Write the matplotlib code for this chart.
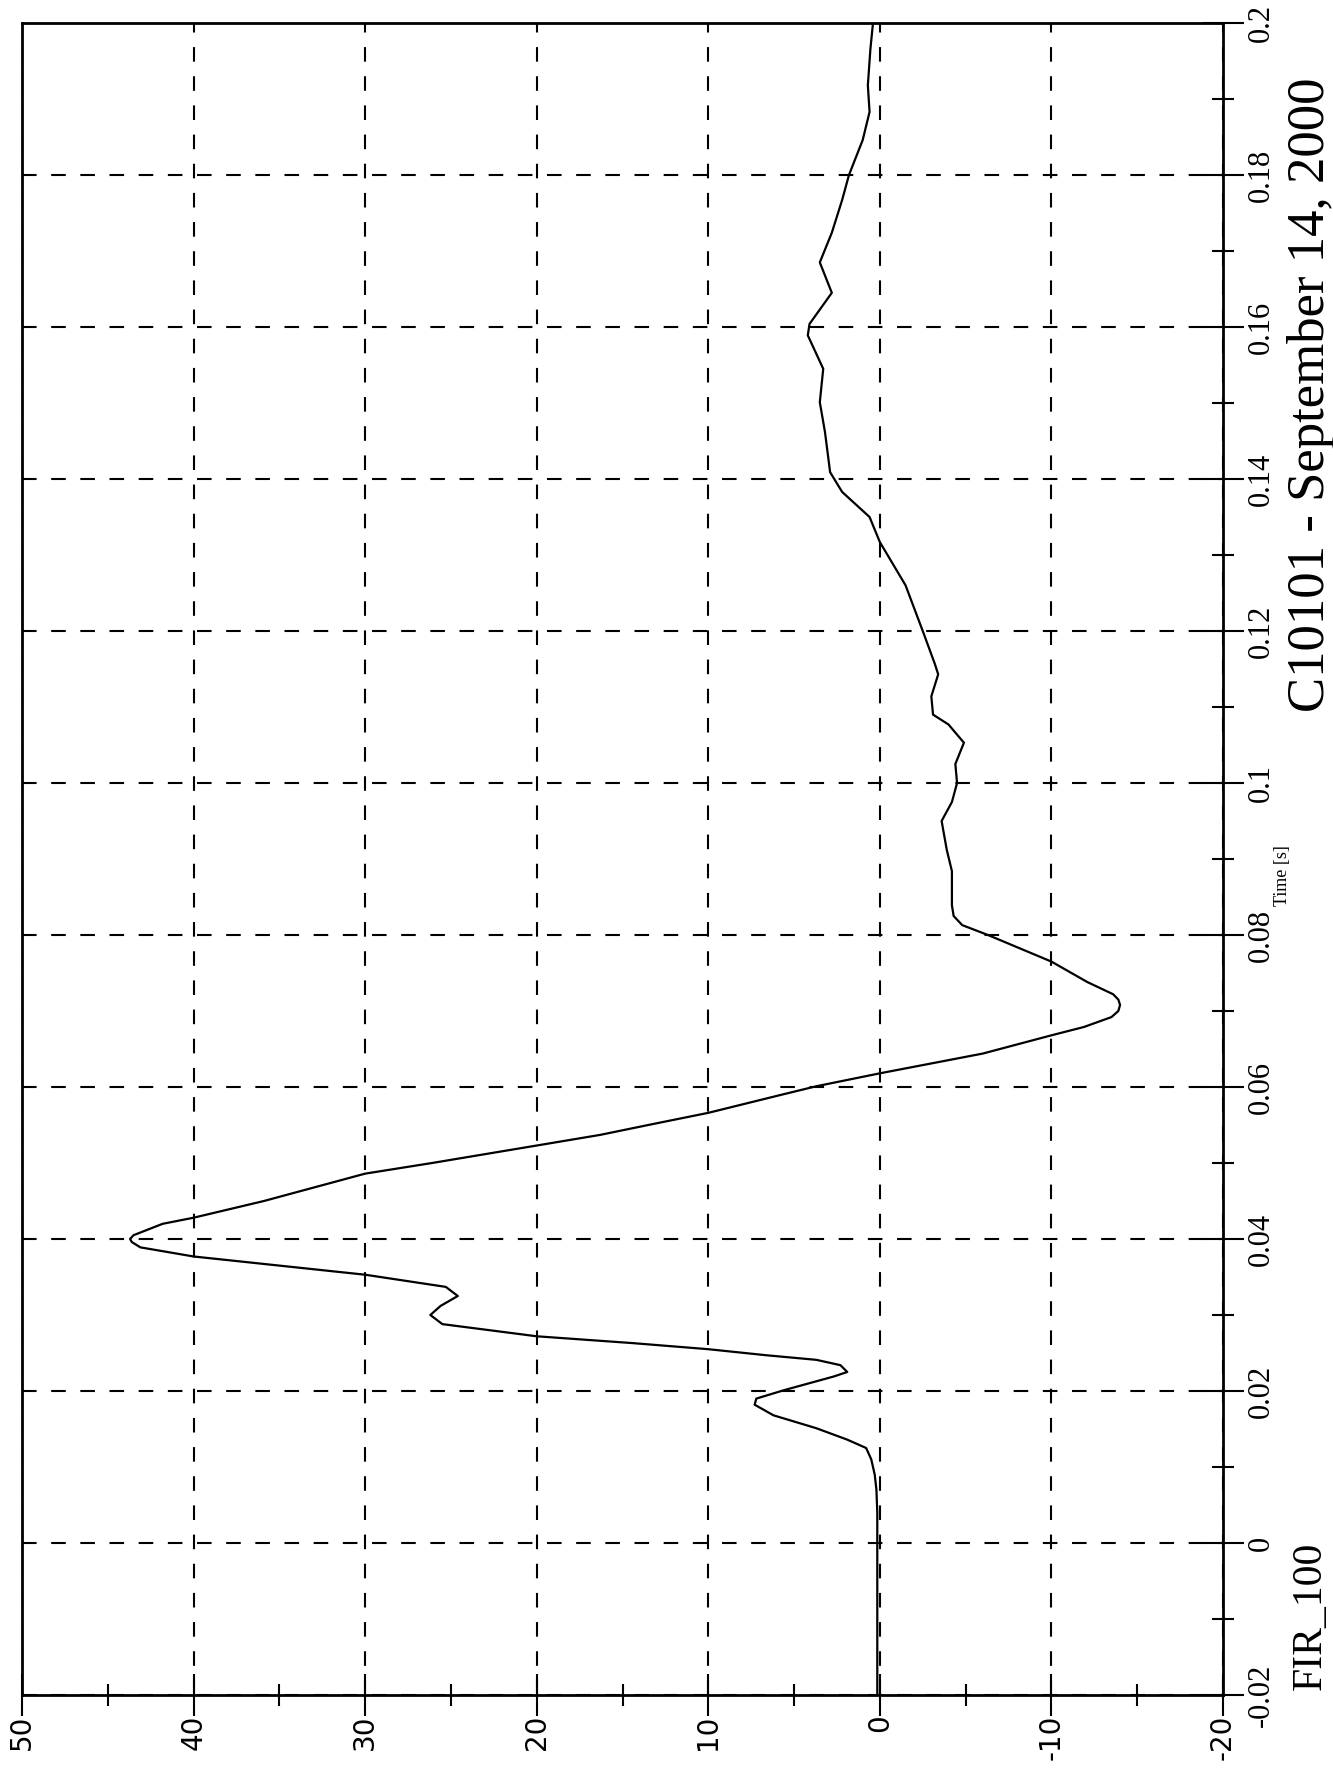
import numpy as np
import matplotlib.pyplot as plt
from matplotlib.ticker import FixedLocator

time = [-0.020, -0.010, 0.000, 0.004, 0.007, 0.009, 0.011, 0.0125, 0.0136, 0.0151,
        0.0168, 0.0182, 0.0190, 0.0201, 0.0219, 0.0225, 0.0234, 0.0241, 0.0247, 0.0255,
        0.0263, 0.0272, 0.0288, 0.0300, 0.0312, 0.0325, 0.0337, 0.0353, 0.0377, 0.0389,
        0.0396, 0.0400, 0.0405, 0.0420, 0.0428, 0.0450, 0.0486, 0.0500, 0.0523, 0.0537,
        0.0550, 0.0566, 0.0590, 0.0601, 0.0618, 0.0644, 0.0668, 0.0679, 0.0692, 0.0700,
        0.0708, 0.0715, 0.0722, 0.0738, 0.0765, 0.0800, 0.0813, 0.0825, 0.0839, 0.0884,
        0.0912, 0.0950, 0.0975, 0.1000, 0.1025, 0.1053, 0.1077, 0.1090, 0.1114, 0.1143,
        0.1157, 0.1200, 0.1260, 0.1317, 0.1350, 0.1383, 0.1409, 0.1462, 0.1501, 0.1545,
        0.1589, 0.1604, 0.1645, 0.1685, 0.1724, 0.1767, 0.1800, 0.1846, 0.1883, 0.1918,
        0.1966, 0.2000]
accel = [0.15, 0.15, 0.15, 0.15, 0.2, 0.3, 0.5, 0.8, 1.9, 3.7,
         6.2, 7.3, 7.2, 5.6, 2.7, 1.9, 2.3, 3.7, 6.6, 10.0,
         14.4, 20.0, 25.5, 26.2, 25.6, 24.6, 25.3, 30.0, 40.0, 43.1,
         43.6, 43.7, 43.5, 41.8, 40.0, 35.9, 30.0, 26.1, 20.0, 16.3,
         13.5, 10.0, 5.7, 3.7, 0.0, -6.0, -10.0, -11.9, -13.5, -13.9,
         -14.0, -13.9, -13.6, -12.1, -10.0, -6.3, -4.8, -4.3, -4.2, -4.2,
         -3.9, -3.6, -4.2, -4.5, -4.4, -4.9, -4.0, -3.1, -3.0, -3.4,
         -3.2, -2.5, -1.5, 0.0, 0.6, 2.2, 2.9, 3.2, 3.5, 3.3,
         4.2, 4.1, 2.8, 3.5, 2.8, 2.2, 1.8, 1.0, 0.6, 0.7,
         0.55, 0.4]

accel_ticks = [50, 40, 30, 20, 10, 0, -10, -20]
accel_minor = [45, 35, 25, 15, 5, -5, -15]
time_ticks = [-0.02, 0.0, 0.02, 0.04, 0.06, 0.08, 0.1, 0.12, 0.14, 0.16, 0.18, 0.2]
time_labels = ["-0.02", "0", "0.02", "0.04", "0.06", "0.08", "0.1", "0.12",
               "0.14", "0.16", "0.18", "0.2"]
time_minor = [-0.01, 0.01, 0.03, 0.05, 0.07, 0.09, 0.11, 0.13, 0.15, 0.17, 0.19]

serif = ["Liberation Serif", "DejaVu Serif"]

W, H = 1333, 1771
fig = plt.figure(figsize=(W / 100, H / 100), dpi=100)
left, right, top, bottom = 22, 1223, 23, 1695
ax = fig.add_axes([left / W, 1 - bottom / H, (right - left) / W, (bottom - top) / H])

ax.plot(accel, time, color="black", lw=1.6, zorder=3)
ax.set_xlim(50, -20)
ax.set_ylim(-0.02, 0.2)

ax.xaxis.set_major_locator(FixedLocator(accel_ticks))
ax.xaxis.set_minor_locator(FixedLocator(accel_minor))
ax.set_xticklabels([str(v) for v in accel_ticks], rotation=90,
                   fontsize=20, family="DejaVu Sans")
ax.yaxis.tick_right()
ax.yaxis.set_major_locator(FixedLocator(time_ticks))
ax.yaxis.set_minor_locator(FixedLocator(time_minor))
ax.set_yticklabels(time_labels, rotation=90, va="center",
                   fontsize=22, family=serif)

ax.tick_params(which="major", direction="inout", length=30, width=1.5, color="black")
ax.tick_params(which="minor", direction="inout", length=16, width=1.5, color="black")
ax.tick_params(axis="x", which="major", pad=-1)
ax.tick_params(axis="y", which="major", pad=2)

ax.grid(True, which="major", color="black", lw=1.5, linestyle=(0, (7, 7)))
for s in ax.spines.values():
    s.set_linewidth(2)
    s.set_color("black")

fig.text(1282 / W, 1 - 876 / H, "Time [s]", rotation=90, ha="center", va="center",
         fontsize=13, family=serif)
fig.text(1311 / W, 1 - 395 / H, "C10101 - September 14, 2000", rotation=90,
         ha="center", va="center", fontsize=38, family=serif)
fig.text(1311 / W, 1 - 1616 / H, "FIR_100", rotation=90, ha="center", va="center",
         fontsize=30, family=serif)

fig.savefig("out.png", dpi=100)
